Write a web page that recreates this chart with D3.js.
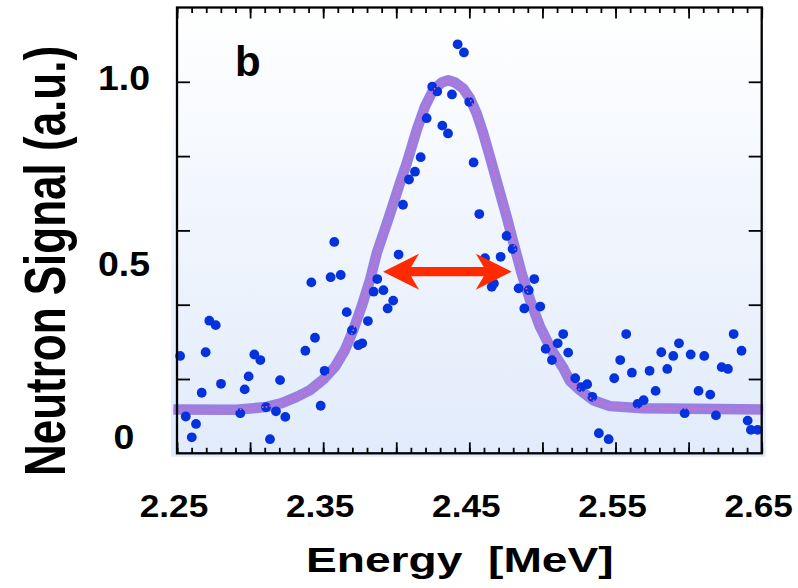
<!DOCTYPE html>
<html><head><meta charset="utf-8">
<script src="https://cdn.jsdelivr.net/npm/d3@7"></script>
<style>
html,body{margin:0;padding:0;background:#fff;}
svg{display:block;}
text{font-family:"Liberation Sans",Arial,Helvetica,sans-serif;font-weight:bold;fill:#000;}
</style>
</head><body>
<svg id="chart" width="798" height="588"></svg>
<script>
// ---- data ----
const energy = [2.2521,2.2560,2.2601,2.2630,2.2669,2.2696,2.2721,2.2765,2.2801,2.2933,
  2.2963,2.2990,2.3029,2.3070,2.3109,2.3136,2.3177,2.3205,2.3241,2.3378,
  2.3419,2.3444,2.3483,2.3510,2.3551,2.3576,2.3620,2.3661,2.3697,2.3740,
  2.3767,2.3806,2.3845,2.3870,2.3912,2.3941,2.3979,2.4016,2.4046,2.4087,
  2.4128,2.4167,2.4208,2.4246,2.4280,2.4315,2.4354,2.4381,2.4420,2.4463,
  2.4499,2.4529,2.4568,2.4607,2.4653,2.4668,2.4714,2.4755,2.4796,2.4837,
  2.4876,2.4906,2.4944,2.4985,2.5022,2.5065,2.5104,2.5142,2.5176,2.5224,
  2.5265,2.5306,2.5341,2.5386,2.5453,2.5491,2.5532,2.5573,2.5612,2.5651,
  2.5692,2.5733,2.5774,2.5813,2.5854,2.5895,2.5934,2.5973,2.6014,2.6068,
  2.6107,2.6148,2.6187,2.6226,2.6269,2.6308,2.6362,2.6404,2.6426,2.6472];
const signal = [0.262,0.099,0.043,0.079,0.163,0.272,0.357,0.345,0.187,0.108,
  0.172,0.207,0.266,0.251,0.124,0.038,0.113,0.197,0.098,0.276,
  0.460,0.311,0.128,0.222,0.474,0.569,0.480,0.380,0.331,0.291,
  0.296,0.356,0.435,0.469,0.439,0.390,0.411,0.535,0.669,0.737,
  0.758,0.797,0.902,0.987,0.974,0.882,0.861,0.966,1.101,1.079,
  0.946,0.783,0.644,0.525,0.448,0.457,0.529,0.585,0.550,0.444,
  0.390,0.439,0.469,0.395,0.281,0.251,0.296,0.321,0.271,0.202,
  0.178,0.186,0.152,0.054,0.038,0.202,0.251,0.321,0.217,0.133,
  0.143,0.222,0.168,0.272,0.227,0.262,0.296,0.108,0.266,0.168,
  0.262,0.158,0.102,0.232,0.227,0.321,0.276,0.088,0.063,0.063];
const fitEnergy = [2.2475,2.2908,2.3114,2.3216,2.3319,2.3410,2.3501,2.3581,2.3649,2.3706,
  2.3763,2.3820,2.3866,2.3957,2.4025,2.4071,2.4140,2.4196,2.4253,2.4311,
  2.4356,2.4402,2.4458,2.4504,2.4550,2.4595,2.4641,2.4698,2.4755,2.4800,
  2.4858,2.4915,2.4983,2.5063,2.5142,2.5188,2.5256,2.5347,2.5462,2.5689,2.6510];
const fitSignal = [0.118,0.117,0.125,0.135,0.152,0.170,0.199,0.233,0.278,0.332,
  0.395,0.466,0.538,0.644,0.727,0.780,0.870,0.933,0.978,0.998,
  1.004,0.998,0.982,0.955,0.915,0.861,0.798,0.717,0.637,0.569,
  0.484,0.413,0.341,0.278,0.230,0.195,0.170,0.143,0.127,0.121,0.118];
const xTickLabels = [2.25, 2.35, 2.45, 2.55, 2.65];
const yTickLabels = [0, 0.5, 1.0];
const fwhmEnergy = [2.391, 2.479];
const fwhmLevel = [0.489];
const panelLabel = "b";
const xTitle = "Energy  [MeV]";
const yTitle = "Neutron Signal (a.u.)";

// ---- chart ----
const svg = d3.select("#chart");
const x = d3.scaleLinear().domain([2.25, 2.65]).range([177, 761.7]);
const y = d3.scaleLinear().domain([0, 1.2]).range([453.3, 7.5]);
const [xa, xb] = x.range(), [ya, yb] = y.range();
const FONT = '"Liberation Sans",Arial,Helvetica,sans-serif';

const defs = svg.append("defs");
const grad = defs.append("linearGradient").attr("id", "bg")
  .attr("x1", 0).attr("y1", 0).attr("x2", 0).attr("y2", 1);
grad.append("stop").attr("offset", "0%").attr("stop-color", "#ffffff");
grad.append("stop").attr("offset", "100%").attr("stop-color", "#e1ebfb");

svg.append("rect").attr("x", xa - 6).attr("y", yb)
  .attr("width", xb - xa + 10).attr("height", ya - yb + 3.5)
  .attr("fill", "url(#bg)");

// ticks (inward, mirrored)
const minorX = d3.range(0, 41).map(i => 2.25 + i * 0.01);
const majorX = d3.range(0, 9).map(i => 2.25 + i * 0.05);
const majorY = [0.2, 0.4, 0.6, 0.8, 1.0];

function tickAxis(axis, tx, ty) {
  const g = svg.append("g").attr("transform", `translate(${tx},${ty})`).call(axis);
  g.select(".domain").remove();
  g.selectAll("line").attr("stroke", "#000").attr("stroke-width", 1.8);
  g.selectAll("text").remove();
  return g;
}
tickAxis(d3.axisBottom(x).tickValues(minorX).tickSize(-5.5).tickFormat(""), 0, ya);
tickAxis(d3.axisBottom(x).tickValues(majorX).tickSize(-11).tickFormat(""), 0, ya);
tickAxis(d3.axisTop(x).tickValues(minorX).tickSize(-5.5).tickFormat(""), 0, yb);
tickAxis(d3.axisTop(x).tickValues(majorX).tickSize(-11).tickFormat(""), 0, yb);
tickAxis(d3.axisLeft(y).tickValues(majorY).tickSize(-13).tickFormat(""), xa, 0);
tickAxis(d3.axisRight(y).tickValues(majorY).tickSize(-13).tickFormat(""), xb, 0);

// fit curve (thick purple band)
const pts = d3.zip(fitEnergy, fitSignal);
const line = d3.line().x(d => x(d[0])).y(d => y(d[1]));
svg.append("path").datum(pts).attr("d", line)
  .attr("fill", "none").attr("stroke", "#9b7fe0").attr("stroke-width", 10.5)
  .attr("stroke-linejoin", "round");

// data points
svg.append("g").selectAll("circle").data(d3.zip(energy, signal)).join("circle")
  .attr("cx", d => x(d[0])).attr("cy", d => y(d[1])).attr("r", 4.9)
  .attr("fill", "#0433dd");

// pink dotted centre line
svg.append("path").datum(pts).attr("d", line)
  .attr("fill", "none").attr("stroke", "#ff5fc0").attr("stroke-width", 1.5)
  .attr("stroke-dasharray", "1.5,2.2");

// FWHM double arrow
{
  const L = x(fwhmEnergy[0]), R = x(fwhmEnergy[1]), c = y(fwhmLevel[0]);
  const hl = 36, hw = 18, nl = 28, sw = 4.7;
  const p = [[L, c], [L + hl, c - hw], [L + nl, c - sw], [R - nl, c - sw], [R - hl, c - hw], [R, c],
             [R - hl, c + hw], [R - nl, c + sw], [L + nl, c + sw], [L + hl, c + hw]];
  svg.append("polygon").attr("points", p.map(d => d.join(",")).join(" "))
    .attr("fill", "#ff2a00");
}

// frame
svg.append("rect").attr("x", xa).attr("y", yb).attr("width", xb - xa).attr("height", ya - yb)
  .attr("fill", "none").attr("stroke", "#000").attr("stroke-width", 2.3);

// x tick labels
const xl = svg.append("g").attr("transform", `translate(0,${ya})`)
  .call(d3.axisBottom(x).tickValues(xTickLabels).tickSize(0).tickFormat(d3.format(".2f")));
xl.select(".domain").remove();
xl.selectAll("text").attr("y", 517 - ya).attr("dy", 0).attr("dx", -3.2)
  .attr("font-size", 32).attr("fill", "#000")
  .attr("font-family", FONT).attr("font-weight", "bold")
  .attr("transform", "scale(1.1,1)");

// y tick labels
const yl = svg.append("g").attr("transform", "translate(124,0)")
  .call(d3.axisLeft(y).tickValues(yTickLabels).tickSize(0)
    .tickFormat(d => d === 0 ? "0" : d3.format(".1f")(d)));
yl.select(".domain").remove();
yl.selectAll("text").attr("text-anchor", "middle").attr("x", 0).attr("dy", 0)
  .attr("y", d => Math.min(y(d) - 4.5, ya - 17) - y(d) + 0.358 * 35)
  .attr("font-size", 35).attr("fill", "#000")
  .attr("font-family", FONT).attr("font-weight", "bold")
  .attr("transform", "scale(1.07,1)");

// titles
svg.append("text").attr("xml:space", "preserve").style("white-space", "pre")
  .attr("transform", "translate(306,572) scale(1.3,1)")
  .attr("font-size", 35.5).text(xTitle);
svg.append("text")
  .attr("transform", "translate(65,261) scale(1.31,1) rotate(-90)")
  .attr("text-anchor", "middle").attr("font-size", 44).text(yTitle);

// panel label
svg.append("text").attr("x", 235).attr("y", 76).attr("font-size", 42).text(panelLabel);
</script>
</body></html>
